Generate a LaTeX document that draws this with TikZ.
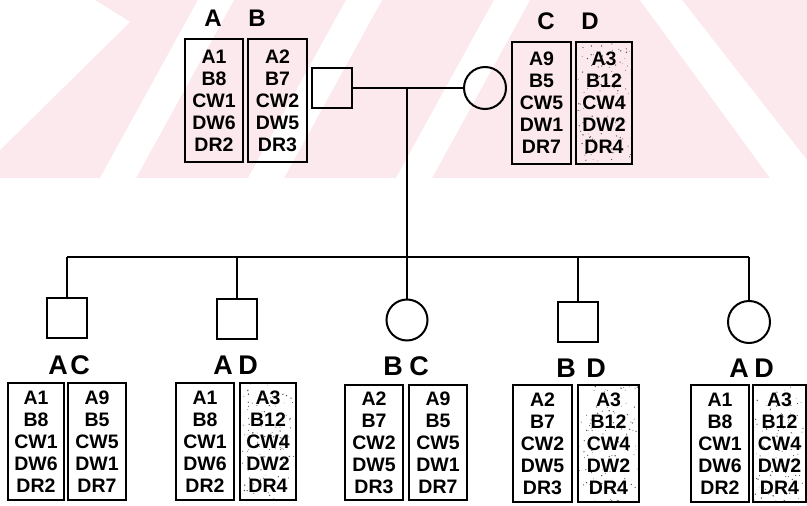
\documentclass[tikz,border=0pt]{standalone}
\usepackage{fontspec}
\setmainfont{Liberation Sans}
\definecolor{wmpink}{RGB}{252,233,237}
\begin{document}
\begin{tikzpicture}[x=1pt,y=-1pt,
  hap/.style={draw,line width=2pt,inner sep=0pt,align=center,
    font=\bfseries\fontsize{19.5}{22}\selectfont},
  male/.style={draw,line width=2pt,minimum size=40pt,inner sep=0pt},
  female/.style={draw,circle,line width=2pt,minimum size=42pt,inner sep=0pt},
  lab/.style={font=\bfseries\fontsize{24}{24}\selectfont,inner sep=0pt},
  blab/.style={font=\bfseries\fontsize{27}{27}\selectfont,inner sep=0pt},
  link/.style={line width=2pt}]
\useasboundingbox (0,0) rectangle (807,506);

% faint striped band behind the parents
\fill[wmpink] (0,0) rectangle (807,178);
\fill[white] (0,0) -- (95,0) -- (130,22) -- (0,150) -- cycle;
\fill[white] (100,178) -- (136,178) -- (234,0) -- (198,0) -- cycle;
\fill[white] (248,178) -- (284,178) -- (382,0) -- (346,0) -- cycle;
\fill[white] (396,178) -- (432,178) -- (530,0) -- (494,0) -- cycle;
\fill[white] (640,0) -- (682,0) -- (807,160) -- (807,178) -- (770,178) -- cycle;

% speckle texture for the shaded haplotype boxes
\pgfmathsetseed{7}
\newcommand\speckle[4]{%
  \foreach \k in {1,...,110}{%
    \pgfmathsetmacro\sx{rnd}\pgfmathsetmacro\sy{rnd}\pgfmathsetmacro\sr{0.3+0.5*rnd}%
    \fill[black!70] ({#1+(#3-#1)*\sx},{#2+(#4-#2)*\sy}) circle (\sr);}}

% ---- parents ----
\node[hap,minimum width=58pt,minimum height=123pt] (pA) at (214,100.5) {A1\\B8\\CW1\\DW6\\DR2};
\node[hap,minimum width=59pt,minimum height=123pt] (pB) at (277.5,100.5) {A2\\B7\\CW2\\DW5\\DR3};
\node[lab] (lA) at (213,18) {A};
\node[lab] (lB) at (257,18) {B};
\node[male] (father) at (332,88) {};
\node[female] (mother) at (485,88) {};
\node[hap,minimum width=59pt,minimum height=122pt] (pC) at (541.5,103) {A9\\B5\\CW5\\DW1\\DR7};
\speckle{576}{42}{632}{164}
\node[hap,minimum width=56pt,minimum height=122pt] (pD) at (604,103) {A3\\B12\\CW4\\DW2\\DR4};
\node[lab] (lC) at (546,21) {C};
\node[lab] (lD) at (590,21) {D};

\coordinate (mate) at (407,88);
\coordinate (sib) at (407,257);
\draw[link] (father.east) -- (mother.west);
\draw[link] (mate) -- (sib);

% ---- children ----
\node[male] (c1) at (67,318) {};
\node[male] (c2) at (237,319) {};
\node[female,minimum size=41pt] (c3) at (407,320) {};
\node[male] (c4) at (578,322) {};
\node[female] (c5) at (749,322) {};

\draw[link] (c1.north |- sib) -- (c5.north |- sib);
\foreach \c in {c1,c2,c3,c4,c5} \draw[link] (\c.north) -- (\c.north |- sib);

\node[blab] (l1a) at (58,365) {A};  \node[blab] (l1b) at (80,365) {C};
\node[blab] (l2a) at (223,365) {A}; \node[blab] (l2b) at (248,365) {D};
\node[blab] (l3a) at (393,366) {B}; \node[blab] (l3b) at (419,366) {C};
\node[blab] (l4a) at (566,368) {B}; \node[blab] (l4b) at (596,368) {D};
\node[blab] (l5a) at (739,368) {A}; \node[blab] (l5b) at (764,368) {D};

\speckle{240}{383}{296}{500}
\speckle{578}{385}{639}{502}
\speckle{753}{385}{806}{502}

\node[hap,minimum width=56pt,minimum height=117pt] (h1a) at (36,441.5) {A1\\B8\\CW1\\DW6\\DR2};
\node[hap,minimum width=58pt,minimum height=117pt] (h1b) at (97,441.5) {A9\\B5\\CW5\\DW1\\DR7};
\node[hap,minimum width=58pt,minimum height=117pt] (h2a) at (205,441.5) {A1\\B8\\CW1\\DW6\\DR2};
\node[hap,minimum width=56pt,minimum height=117pt] (h2b) at (268,441.5) {A3\\B12\\CW4\\DW2\\DR4};
\node[hap,minimum width=58pt,minimum height=115pt] (h3a) at (374,442.5) {A2\\B7\\CW2\\DW5\\DR3};
\node[hap,minimum width=58pt,minimum height=115pt] (h3b) at (438,442.5) {A9\\B5\\CW5\\DW1\\DR7};
\node[hap,minimum width=59pt,minimum height=117pt] (h4a) at (542.5,443.5) {A2\\B7\\CW2\\DW5\\DR3};
\node[hap,minimum width=61pt,minimum height=117pt] (h4b) at (608.5,443.5) {A3\\B12\\CW4\\DW2\\DR4};
\node[hap,minimum width=58pt,minimum height=117pt] (h5a) at (720,443.5) {A1\\B8\\CW1\\DW6\\DR2};
\node[hap,minimum width=53pt,minimum height=117pt] (h5b) at (779.5,443.5) {A3\\B12\\CW4\\DW2\\DR4};
\end{tikzpicture}
\end{document}
